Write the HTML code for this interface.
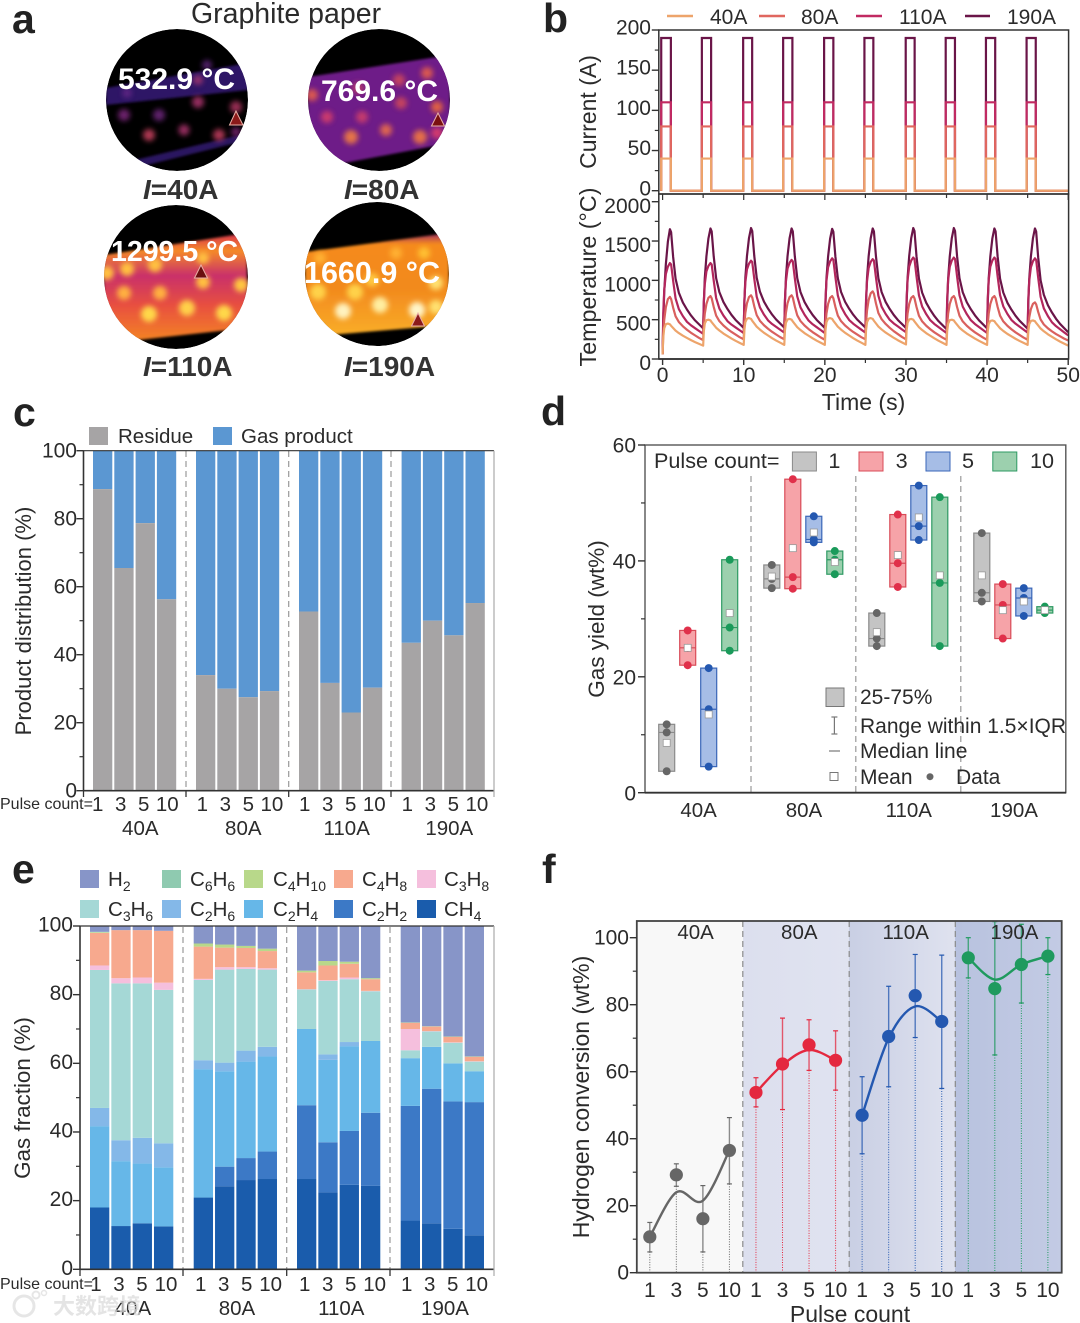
<!DOCTYPE html>
<html lang="en">
<head>
<meta charset="utf-8">
<title>Pulsed heating of graphite paper: multi-panel figure</title>
<style>
html,body{margin:0;padding:0;background:#fff;width:1080px;height:1323px;overflow:hidden}
svg{display:block}
text{font-family:"Liberation Sans","Noto Sans CJK SC",sans-serif;fill:#2b2b2b}
.panel{font-weight:700;font-size:41px;fill:#222}
.t20{font-size:20.5px}
.t21{font-size:21px}
.cur{font-weight:700;font-size:28px;fill:#333}
.temp{font-weight:700;font-size:30px;fill:#fff}
</style>
</head>
<body>
<svg id="figure" xmlns="http://www.w3.org/2000/svg" width="1080" height="1323" viewBox="0 0 1080 1323">
<defs>
<clipPath id="clipT1"><circle cx="177" cy="100" r="71"/></clipPath>
<clipPath id="clipT2"><circle cx="379" cy="100" r="71"/></clipPath>
<clipPath id="clipT3"><circle cx="176" cy="277" r="72"/></clipPath>
<clipPath id="clipT4"><circle cx="377" cy="274" r="72"/></clipPath>
<filter id="soft" x="-50%" y="-50%" width="200%" height="200%"><feGaussianBlur stdDeviation="2.6"/></filter>
<filter id="softer" x="-20%" y="-20%" width="140%" height="140%"><feGaussianBlur stdDeviation="1.2"/></filter>
<linearGradient id="gradT3" x1="0" y1="0" x2="0" y2="1">
<stop offset="0" stop-color="#d8304f"/><stop offset=".16" stop-color="#f58a28"/><stop offset=".38" stop-color="#c9306a"/><stop offset=".65" stop-color="#e8503f"/><stop offset="1" stop-color="#f58a20"/>
</linearGradient>
<linearGradient id="gradT4" x1="0" y1="0" x2="0" y2="1">
<stop offset="0" stop-color="#a02a6a"/><stop offset=".1" stop-color="#f58a1c"/><stop offset=".5" stop-color="#f28a1e"/><stop offset="1" stop-color="#fbb52a"/>
</linearGradient>
<linearGradient id="gradF2" x1="0" y1="0" x2="1" y2="0"><stop offset="0" stop-color="#dcdfee"/><stop offset="1" stop-color="#e0e3f0"/></linearGradient>
<linearGradient id="gradF3" x1="0" y1="0" x2="1" y2="0"><stop offset="0" stop-color="#c9cfe4"/><stop offset="1" stop-color="#dfe2ef"/></linearGradient>
<linearGradient id="gradF4" x1="0" y1="0" x2="1" y2="0"><stop offset="0" stop-color="#b8c2df"/><stop offset="1" stop-color="#c3cbe4"/></linearGradient>
<clipPath id="clipF"><rect x="637" y="921" width="425" height="352"/></clipPath>
</defs>

<g id="panel-a">
<text class="panel" x="12" y="33">a</text>
<text x="286" y="23" text-anchor="middle" font-size="28.5">Graphite paper</text>

<g clip-path="url(#clipT1)">
<circle cx="177" cy="100" r="71" fill="#000"/>
<polygon points="106,88 248,63 248,90 106,105" fill="#2f1566" filter="url(#softer)"/>
<polygon points="135,160 248,133 248,140 135,168" fill="#2c1560" filter="url(#softer)"/>
<g filter="url(#soft)" opacity=".78">
<circle cx="124" cy="115" r="6" fill="#8a2a8a"/><circle cx="159" cy="115" r="6" fill="#7a2a8a"/><circle cx="198" cy="102" r="6" fill="#c03a7a"/><circle cx="236" cy="107" r="6" fill="#c03a6a"/><circle cx="149" cy="135" r="6" fill="#e04a6a"/><circle cx="184" cy="130" r="5.5" fill="#c03a7a"/><circle cx="219" cy="135" r="6" fill="#d8456a"/><circle cx="198" cy="80" r="5" fill="#b03a70"/><circle cx="207" cy="65" r="5" fill="#6a2a8a"/><circle cx="236" cy="132" r="5" fill="#8a2a80"/><circle cx="127" cy="93" r="5" fill="#6a2a8a"/>
</g></g>

<g clip-path="url(#clipT2)">
<circle cx="379" cy="100" r="71" fill="#000"/>
<polygon points="308,77 450,55 450,143 308,170" fill="#6e1a88" filter="url(#softer)"/>
<g filter="url(#soft)" opacity=".88">
<circle cx="312" cy="95" r="6" fill="#e8604a"/><circle cx="351" cy="137" r="7" fill="#f58040"/><circle cx="386" cy="130" r="6" fill="#ee704a"/><circle cx="420" cy="137" r="7" fill="#f57a40"/><circle cx="327" cy="117" r="6" fill="#d8406a"/><circle cx="362" cy="117" r="6" fill="#d0406a"/><circle cx="399" cy="80" r="6" fill="#d04a5a"/><circle cx="427" cy="73" r="6" fill="#e8604a"/><circle cx="401" cy="103" r="6" fill="#d04a5a"/><circle cx="437" cy="107" r="6" fill="#f06a3a"/><circle cx="437" cy="133" r="6" fill="#e0406a"/><circle cx="358" cy="88" r="6" fill="#c0406a"/>
</g></g>

<g clip-path="url(#clipT3)">
<circle cx="176" cy="277" r="72" fill="#000"/>
<polygon points="104,255 247,233 247,328 138,340 104,345" fill="url(#gradT3)" filter="url(#softer)"/>
<g filter="url(#soft)">
<circle cx="107" cy="273" r="7" fill="#ffc040"/><circle cx="127" cy="269" r="7" fill="#ffc040"/><circle cx="155" cy="265" r="7" fill="#ffc040"/><circle cx="203" cy="282" r="7" fill="#ffc040"/><circle cx="241" cy="285" r="7" fill="#ffc840"/><circle cx="124" cy="293" r="7" fill="#ffb040"/><circle cx="160" cy="293" r="7" fill="#ffb040"/><circle cx="149" cy="314" r="8" fill="#ffd84a"/><circle cx="187" cy="308" r="8" fill="#ffd04a"/><circle cx="224" cy="313" r="8" fill="#ffd84a"/><circle cx="203" cy="258" r="6" fill="#ffc040"/>
</g></g>

<g clip-path="url(#clipT4)">
<circle cx="377" cy="274" r="72" fill="#000"/>
<polygon points="305,252 449,233 449,325 330,335 305,345" fill="url(#gradT4)" filter="url(#softer)"/>
<g filter="url(#soft)">
<circle cx="318" cy="292" r="8" fill="#ffd24a"/><circle cx="355" cy="292" r="8" fill="#ffd24a"/><circle cx="343" cy="311" r="8" fill="#fff3c0"/><circle cx="380" cy="305" r="8" fill="#ffeea0"/><circle cx="417" cy="310" r="8" fill="#fff5c8"/><circle cx="436" cy="307" r="7" fill="#ffe070"/><circle cx="436" cy="283" r="7" fill="#ffe070"/><circle cx="424" cy="253" r="6" fill="#ffc030"/><circle cx="396" cy="253" r="6" fill="#ffb030"/><circle cx="372" cy="280" r="7" fill="#ffc840"/><circle cx="320" cy="258" r="6" fill="#ffb030"/>
</g></g>

<polygon points="236,111 229.5,125 243,125" fill="#8b1a1a" stroke="#eab0a8" stroke-width="1"/>
<polygon points="438,113 431.5,126 444.5,126" fill="#7a1010" stroke="#eab0a8" stroke-width="1"/>
<polygon points="201,265 194.5,278 207.5,278" fill="#6a0f0f" stroke="#eab0a8" stroke-width="1"/>
<polygon points="418,313 411.5,326 424.5,326" fill="#8b1a1a" stroke="#eab0a8" stroke-width="1"/>

<text class="temp" x="118" y="89">532.9 °C</text>
<text class="temp" x="321" y="101">769.6 °C</text>
<text class="temp" x="111" y="261" font-size="28.5" style="font-size:28.5px">1299.5 °C</text>
<text class="temp" x="304" y="283" style="font-size:30.5px">1660.9 °C</text>

<text class="cur" x="143" y="199"><tspan font-style="italic">I</tspan>=40A</text>
<text class="cur" x="344" y="199"><tspan font-style="italic">I</tspan>=80A</text>
<text class="cur" x="143" y="376"><tspan font-style="italic">I</tspan>=110A</text>
<text class="cur" x="344" y="376"><tspan font-style="italic">I</tspan>=190A</text>
</g>

<g id="panel-b">
<text class="panel" x="543" y="32">b</text>
<line x1="667" y1="16" x2="693" y2="16" stroke="#eda46b" stroke-width="2.4"/>
<text font-size="21" x="710" y="24">40A</text>
<line x1="759" y1="16" x2="785" y2="16" stroke="#e0675f" stroke-width="2.4"/>
<text font-size="21" x="801" y="24">80A</text>
<line x1="856" y1="16" x2="882" y2="16" stroke="#c12a62" stroke-width="2.4"/>
<text font-size="21" x="899" y="24">110A</text>
<line x1="965" y1="16" x2="990" y2="16" stroke="#6a1548" stroke-width="2.4"/>
<text font-size="21" x="1007" y="24">190A</text>
<text font-size="23" text-anchor="middle" transform="translate(596,112) rotate(-90)">Current (A)</text>
<text font-size="23.3" text-anchor="middle" transform="translate(596,277) rotate(-90)">Temperature (°C)</text>
<text font-size="23" text-anchor="middle" x="863.5" y="410">Time (s)</text>
</g>

<g id="panel-c">
<text class="panel" x="13" y="426">c</text>
<rect x="89" y="427" width="19" height="18" fill="#a6a4a5"/>
<text class="t20" x="118" y="443">Residue</text>
<rect x="213" y="427" width="19" height="18" fill="#5b97d2"/>
<text class="t20" x="241" y="443">Gas product</text>
<text font-size="22" text-anchor="middle" transform="translate(31,621) rotate(-90)">Product distribution (%)</text>
</g>

<g id="panel-d">
<text class="panel" x="541" y="425">d</text>
<text font-size="22.5" text-anchor="middle" transform="translate(604,619) rotate(-90)">Gas yield (wt%)</text>
</g>

<g id="panel-e">
<text class="panel" x="12" y="883">e</text>
<text font-size="22.4" text-anchor="middle" transform="translate(30,1098) rotate(-90)">Gas fraction (%)</text>
<g font-size="20">
<rect x="80" y="870" width="19" height="18" fill="#8795c8"/>
<text x="108" y="886" font-size="20.5">H<tspan font-size="14" dy="5">2</tspan></text>
<rect x="162" y="870" width="19" height="18" fill="#8fcab0"/>
<text x="190" y="886" font-size="20.5">C<tspan font-size="14" dy="5">6</tspan><tspan dy="-5">H</tspan><tspan font-size="14" dy="5">6</tspan></text>
<rect x="244" y="870" width="19" height="18" fill="#b8d88a"/>
<text x="273" y="886" font-size="20.5">C<tspan font-size="14" dy="5">4</tspan><tspan dy="-5">H</tspan><tspan font-size="14" dy="5">10</tspan></text>
<rect x="334" y="870" width="19" height="18" fill="#f7a98e"/>
<text x="362" y="886" font-size="20.5">C<tspan font-size="14" dy="5">4</tspan><tspan dy="-5">H</tspan><tspan font-size="14" dy="5">8</tspan></text>
<rect x="417" y="870" width="19" height="18" fill="#f5bfdd"/>
<text x="444" y="886" font-size="20.5">C<tspan font-size="14" dy="5">3</tspan><tspan dy="-5">H</tspan><tspan font-size="14" dy="5">8</tspan></text>
<rect x="80" y="900" width="19" height="18" fill="#a5d8d6"/>
<text x="108" y="916" font-size="20.5">C<tspan font-size="14" dy="5">3</tspan><tspan dy="-5">H</tspan><tspan font-size="14" dy="5">6</tspan></text>
<rect x="162" y="900" width="19" height="18" fill="#84b8e8"/>
<text x="190" y="916" font-size="20.5">C<tspan font-size="14" dy="5">2</tspan><tspan dy="-5">H</tspan><tspan font-size="14" dy="5">6</tspan></text>
<rect x="244" y="900" width="19" height="18" fill="#66b7e8"/>
<text x="273" y="916" font-size="20.5">C<tspan font-size="14" dy="5">2</tspan><tspan dy="-5">H</tspan><tspan font-size="14" dy="5">4</tspan></text>
<rect x="334" y="900" width="19" height="18" fill="#3c79c6"/>
<text x="362" y="916" font-size="20.5">C<tspan font-size="14" dy="5">2</tspan><tspan dy="-5">H</tspan><tspan font-size="14" dy="5">2</tspan></text>
<rect x="417" y="900" width="19" height="18" fill="#1a5cac"/>
<text x="444" y="916" font-size="20.5">CH<tspan font-size="14" dy="5">4</tspan></text>
</g>
</g>

<g id="panel-f">
<text class="panel" x="542" y="883">f</text>
<rect x="637" y="921" width="106" height="352" fill="#f8f8f8"/>
<rect x="743" y="921" width="106" height="352" fill="url(#gradF2)"/>
<rect x="849" y="921" width="106" height="352" fill="url(#gradF3)"/>
<rect x="955" y="921" width="107" height="352" fill="url(#gradF4)"/>
<text font-size="23" text-anchor="middle" transform="translate(589,1097) rotate(-90)">Hydrogen conversion (wt%)</text>
<text font-size="23" text-anchor="middle" x="850" y="1322">Pulse count</text>
</g>

<g id="watermark" opacity=".75">
<circle cx="24" cy="1306" r="10" fill="none" stroke="#dedede" stroke-width="3"/>
<circle cx="36" cy="1295" r="3.5" fill="none" stroke="#dedede" stroke-width="2"/>
<circle cx="44" cy="1293" r="2.5" fill="none" stroke="#dedede" stroke-width="1.5"/>
<text x="53" y="1314" font-size="22" font-weight="700" style="fill:#dcdcdc;font-family:'Liberation Sans','Noto Sans CJK SC',sans-serif">大数跨境</text>
</g>
</svg>

<script>
/* Panel b data */
const pulseStart = [-0.17, 4.84, 9.93, 14.86, 19.91, 24.88, 29.97, 34.9, 39.86, 44.87];
const pulseEnd = [1.02, 5.98, 11.04, 16, 21.05, 25.98, 31.07, 36.04, 41, 46];
const currentLevels = [190, 110, 80, 40];
const currentTicks = [0, 50, 100, 150, 200];
const temperatureTicks = [0, 500, 1000, 1500, 2000];
const timeTicks = [0, 10, 20, 30, 40, 50];
const peak40 = [450, 500, 520, 510, 520, 520, 510, 500, 490, 490];
const peak80 = [790, 800, 810, 810, 800, 860, 800, 800, 800, 720];
const peak110 = [1220, 1220, 1250, 1260, 1280, 1270, 1290, 1290, 1290, 1280];
const peak190 = [1650, 1660, 1665, 1660, 1655, 1660, 1665, 1665, 1660, 1660];
const trough40 = [60, 170, 180, 180, 180, 180, 185, 180, 180, 180, 170];
const trough80 = [60, 240, 250, 250, 245, 250, 250, 245, 245, 245, 235];
const trough110 = [60, 320, 330, 335, 330, 335, 340, 330, 330, 335, 300];
const trough190 = [60, 390, 395, 400, 395, 400, 395, 380, 390, 385, 340];
const cycleTimes = [0, 0.08, 0.2, 0.4, 0.65, 0.9, 1.05, 1.3, 1.6, 2, 2.5, 3, 3.5, 4, 4.5, 5];
const profile40 = [0, 0.55, 0.85, 0.98, 1, 0.97, 0.9, 0.8, 0.68, 0.57, 0.45, 0.35, 0.25, 0.16, 0.08, 0];
const profile80 = [0, 0.35, 0.6, 0.82, 0.96, 1, 0.95, 0.75, 0.55, 0.42, 0.32, 0.24, 0.17, 0.11, 0.05, 0];
const profile110 = [0, 0.45, 0.7, 0.88, 0.96, 1, 0.98, 0.75, 0.5, 0.35, 0.25, 0.17, 0.12, 0.08, 0.04, 0];
const profile190 = [0, 0.25, 0.5, 0.72, 0.9, 1, 0.97, 0.72, 0.5, 0.36, 0.26, 0.19, 0.13, 0.08, 0.04, 0];

/* Panel c data */
const pulseLabels = ['1', '3', '5', '10'];
const currentLabels = ['40A', '80A', '110A', '190A'];
const percentTicks = [0, 20, 40, 60, 80, 100];
const residue = [88.7, 65.5, 78.7, 56.3, 34, 30, 27.5, 29.3, 52.7, 31.7, 23, 30.3, 43.5, 50, 45.7, 55.2];

/* Panel d data */
const yieldTicks = [0, 20, 40, 60];
const yieldLow = [3.7, 22, 4.5, 24.5, 35.3, 35.2, 43.2, 37.7, 25.3, 35.5, 43.6, 25.3, 33, 26.6, 30.5, 31];
const yieldHigh = [11.8, 28, 21.5, 40.2, 39.3, 54.1, 47.7, 41.7, 31, 48, 53, 51, 44.8, 36, 35.3, 32.1];
const yieldMedian = [10.4, 25, 14.4, 28.5, 36.9, 37.2, 43.7, 40.2, 26.6, 39.6, 46, 36.2, 34.5, 32.4, 33.6, 31.5];
const yieldMean = [8.6, 25, 13.5, 31, 37.3, 42.2, 44.9, 39.8, 27.7, 41, 47.5, 37.5, 37.5, 31.5, 33, 31.5];

/* Panel e data: per gas share of each of the 16 bars */
const ch4 = [18, 12.6, 13.4, 12.5, 20.9, 24.2, 26, 26.3, 26.3, 22.4, 24.6, 24.3, 14.2, 13.4, 11.8, 9.9];
const c2h2 = [0, 0, 0, 0, 0, 5.7, 6.4, 8, 21.5, 14.6, 15.7, 21.3, 33.4, 39.2, 37.1, 38.8];
const c2h4 = [23.7, 18.9, 17.4, 17.2, 37.4, 27.8, 28.1, 27.7, 22.2, 24, 24.7, 20.9, 13.9, 12.2, 11.1, 9];
const c2h6 = [5.3, 6.1, 7.5, 7, 2.6, 2.5, 3.2, 2.8, 0, 1.6, 1.2, 0, 0, 0, 0, 0];
const c3h6 = [40.2, 45.7, 45, 44.7, 23.4, 27.1, 23.8, 22.5, 11.5, 21.4, 18.3, 14.5, 2.3, 4.5, 6, 2.8];
const c3h8 = [1.3, 1.5, 1.7, 2.1, 0.3, 0.7, 0.5, 0.4, 0.1, 0.2, 0.5, 0.1, 6.2, 0.1, 0.1, 0.1];
const c4h8 = [9.5, 14, 13.8, 15.1, 9.4, 5.7, 5.6, 5, 4.9, 4.3, 4, 3.4, 1.8, 1.3, 1.6, 1.3];
const c4h10 = [0.2, 0, 0, 0, 0.9, 0.9, 0.6, 0.7, 0.5, 1.3, 0.6, 0.3, 0.1, 0.1, 0.1, 0.1];
const c6h6 = [0.1, 0, 0, 0, 0, 0, 0, 0, 0, 0, 0, 0, 0, 0, 0, 0];
const h2 = [1.7, 1.2, 1.2, 1.4, 5.1, 5.4, 5.8, 6.6, 13, 10.2, 10.4, 15.2, 28.1, 29.2, 32.2, 38];

/* Panel f data */
const conversionTicks = [0, 20, 40, 60, 80, 100];
const conversion = [10.7, 29.2, 16.1, 36.5, 53.8, 62.3, 68, 63.4, 47, 70.5, 82.7, 75, 94, 84.8, 92, 94.5];
const conversionLow = [6.2, 25.8, 6.2, 26.5, 49.5, 48.7, 60.4, 54.5, 35.5, 55.5, 70.2, 55, 88, 65, 80.5, 89];
const conversionHigh = [15, 32.5, 26, 46.3, 58.2, 76, 75.5, 72.2, 58.5, 85.5, 95, 94.8, 100, 104.8, 104, 100];
const conversionFit = [10.7, 24, 21.5, 36.5, 53.8, 62, 66.5, 63.4, 47, 70, 79.5, 75, 94, 87.5, 92, 94.5];

const NS = 'http://www.w3.org/2000/svg';
function scale(d0, d1, r0, r1) {
  return function (v) { return r0 + (v - d0) * (r1 - r0) / (d1 - d0); };
}
function mk(tag, name, parent, props) {
  const el = document.createElementNS(NS, tag);
  
  
  for (const k in props) el.setAttribute(k, props[k]);
  parent.appendChild(el);
  return el;
}
function line(name, parent, x1, y1, x2, y2, stroke, w, dash) {
  const p = { x1: x1, y1: y1, x2: x2, y2: y2, stroke: stroke, 'stroke-width': w };
  if (dash) p['stroke-dasharray'] = dash;
  return mk('line', name, parent, p);
}
function label(name, parent, x, y, str, size, anchor) {
  const t = mk('text', name, parent, { x: x, y: y, 'font-size': size, 'text-anchor': anchor || 'middle' });
  t.textContent = str;
  return t;
}
function yAxis(parent, prefix, ticks, minorTicks, ys, axisX, labelX, size, color, labelShift) {
  const shift = labelShift || 0;
  ticks.forEach(function (v) {
    line(prefix + '-tick', parent, axisX - 7, ys(v), axisX, ys(v), color, 1.4);
    label(prefix + '-tick-label', parent, labelX, ys(v) + size * 0.36 + shift, String(v), size, 'end');
  });
  minorTicks.forEach(function (v) {
    line(prefix + '-minor-tick', parent, axisX - 4, ys(v), axisX, ys(v), color, 1.2);
  });
}

/* ---------- Panel b ---------- */
(function () {
  const g = document.getElementById('panel-b');
  const xs = scale(0, 50, 662.6, 1068.2);
  const yc = scale(0, 200, 190.7, 30);
  const yt = scale(0, 2000, 359, 201.7);
  const colors = { 190: '#6a1548', 110: '#c12a62', 80: '#e0675f', 40: '#eda46b' };
  currentLevels.forEach(function (level) {
    let d = 'M' + xs(pulseStart[0]) + ' ' + yc(0);
    pulseStart.forEach(function (s, i) {
      d += 'L' + xs(s) + ' ' + yc(0) + 'L' + xs(s) + ' ' + yc(level) + 'L' + xs(pulseEnd[i]) + ' ' + yc(level) + 'L' + xs(pulseEnd[i]) + ' ' + yc(0);
    });
    d += 'L' + xs(50) + ' ' + yc(0);
    mk('path', 'current-trace-' + level + 'a', g, { d: d, fill: 'none', stroke: colors[level], 'stroke-width': 2.2 });
  });
  const series = [
    ['190a', peak190, trough190, profile190, '#6a1548'],
    ['110a', peak110, trough110, profile110, '#b3265c'],
    ['80a', peak80, trough80, profile80, '#d9605e'],
    ['40a', peak40, trough40, profile40, '#eda46b']
  ];
  series.forEach(function (s) {
    const peaks = s[1], troughs = s[2], prof = s[3];
    let d = '';
    peaks.forEach(function (pk, k) {
      const apex = prof.indexOf(1);
      cycleTimes.forEach(function (t, j) {
        const base = j <= apex ? troughs[k] : troughs[k + 1];
        const v = base + prof[j] * (pk - base);
        d += (d ? 'L' : 'M') + xs(5 * k + t) + ' ' + yt(v);
      });
    });
    mk('path', 'temperature-trace-' + s[0], g, { d: d, fill: 'none', stroke: s[4], 'stroke-width': 2.2, 'stroke-linejoin': 'round' });
  });
  mk('rect', 'current-plot-frame', g, { x: 658.8, y: 30, width: 409.8, height: 164, fill: 'none', stroke: '#333', 'stroke-width': 1.5 });
  mk('rect', 'temperature-plot-frame', g, { x: 658.8, y: 194, width: 409.8, height: 165, fill: 'none', stroke: '#333', 'stroke-width': 1.5 });
  line('time-axis-line', g, 658.8, 359, 1068.6, 359, '#333', 1.8);
  yAxis(g, 'current', currentTicks, [25, 75, 125, 175], yc, 658.8, 651, 21, '#333', -3);
  yAxis(g, 'temperature', temperatureTicks, [250, 750, 1250, 1750], yt, 658.8, 651, 21, '#333', 3.5);
  timeTicks.forEach(function (v) {
    line('time-tick', g, xs(v), 359, xs(v), 365, '#333', 1.4);
    line('time-tick-upper', g, xs(v), 194, xs(v), 200, '#333', 1.2);
    label('time-tick-label', g, xs(v), 382, String(v), 21);
  });
  timeTicks.slice(0, -1).forEach(function (v) {
    line('time-minor-tick', g, xs(v + 5), 359, xs(v + 5), 363, '#333', 1.2);
    line('time-minor-tick-upper', g, xs(v + 5), 194, xs(v + 5), 198, '#333', 1.2);
  });
})();

/* ---------- Panel c ---------- */
(function () {
  const g = document.getElementById('panel-c');
  const ys = scale(0, 100, 790.7, 450.7);
  const groupX = [93, 196, 299, 401.6];
  const barX = function (i) { return groupX[Math.floor(i / 4)] + (i % 4) * 21.3; };
  residue.forEach(function (v, i) {
    mk('rect', 'gas-product-bar-' + i, g, { x: barX(i), y: ys(100), width: 19.3, height: ys(v) - ys(100), fill: '#5b97d2' });
    mk('rect', 'residue-bar-' + i, g, { x: barX(i), y: ys(v), width: 19.3, height: ys(0) - ys(v), fill: '#a6a4a5' });
  });
  [186, 288.7, 391].forEach(function (x) {
    line('group-divider', g, x, 451, x, 790, '#999', 1.2, '6 4');
    line('group-tick', g, x, 790.7, x, 797, '#333', 1.3);
  });
  line('y-axis-line', g, 83.5, 450.7, 83.5, 791, '#333', 1.6);
  line('x-axis-line', g, 83, 790.7, 494, 790.7, '#333', 1.6);
  line('top-frame-line', g, 83, 450.7, 494, 450.7, '#333', 1.2);
  line('right-frame-line', g, 494, 450.7, 494, 797, '#aaa', 1.2);
  line('x-axis-start-tick', g, 83.5, 790.7, 83.5, 797, '#333', 1.3);
  yAxis(g, 'percent', percentTicks, [10, 30, 50, 70, 90], ys, 83.5, 77, 21, '#333', -1);
  label('pulse-count-prefix', g, 0, 809, 'Pulse count=', 16, 'start');
  const labelX = [97.7, 202.3, 304.7, 407.3];
  const groupLabelX = [140.3, 243.3, 346.7, 449.3];
  currentLabels.forEach(function (c, gi) {
    pulseLabels.forEach(function (p, j) {
      label('pulse-label', g, labelX[gi] + j * 23 + (j === 3 ? 0.6 : 0), 811, p, 20.5);
    });
    label('current-group-label', g, groupLabelX[gi], 835, c, 20.5);
  });
})();

/* ---------- Panel d ---------- */
(function () {
  const g = document.getElementById('panel-d');
  const ys = scale(0, 60, 792.7, 445);
  const groupX = [666.7, 771.8, 876.8, 981.8];
  const fills = ['#c4c4c4', '#f6a3a8', '#a6bde6', '#9cd0ae'];
  const strokes = ['#8a8a8a', '#d94b57', '#3a66b8', '#2e9a63'];
  const dots = ['#666666', '#e0304a', '#2458b0', '#1a9a5a'];
  [751, 855.8, 960.8].forEach(function (x) {
    line('group-divider', g, x, 476, x, 792, '#999', 1.2, '6 4');
  });
  yieldLow.forEach(function (lo, i) {
    const k = i % 4;
    const x = groupX[Math.floor(i / 4)] + k * 21;
    const hi = yieldHigh[i], med = yieldMedian[i], mean = yieldMean[i];
    mk('rect', 'box-' + i, g, { x: x - 8, y: ys(hi), width: 16, height: ys(lo) - ys(hi), fill: fills[k], stroke: strokes[k], 'stroke-width': 1.2 });
    line('median-line-' + i, g, x - 8, ys(med), x + 8, ys(med), strokes[k], 1.2);
    [lo, med, hi].forEach(function (v) {
      mk('circle', 'data-point-' + i, g, { cx: x, cy: ys(v), r: 4, fill: dots[k] });
    });
    mk('rect', 'mean-marker-' + i, g, { x: x - 3.5, y: ys(mean) - 3.5, width: 7, height: 7, fill: '#fff', stroke: '#999', 'stroke-width': 0.8 });
  });
  mk('rect', 'plot-frame', g, { x: 645, y: 445, width: 420.8, height: 347.7, fill: 'none', stroke: '#555', 'stroke-width': 1.4 });
  line('x-axis-line', g, 645, 792.7, 1066, 792.7, '#333', 1.8);
  yAxis(g, 'yield', yieldTicks, [10, 30, 50], ys, 645, 636, 21, '#333', 0);
  const labelCx = [698.6, 804, 908.8, 1014];
  currentLabels.forEach(function (c, i) {
    label('current-group-label', g, labelCx[i], 817, c, 20.5);
  });

  /* legends */
  label('pulse-count-legend-title', g, 654, 468, 'Pulse count=', 21.6, 'start');
  const swX = [792.4, 859, 926, 992.8];
  const swLabelX = [834.4, 901.6, 968, 1042];
  pulseLabels.forEach(function (p, i) {
    mk('rect', 'legend-swatch-pulse-' + p, g, { x: swX[i], y: 452, width: 24, height: 19, fill: fills[i], stroke: strokes[i], 'stroke-width': 1 });
    label('legend-label-pulse-' + p, g, swLabelX[i], 468, p, 21.6);
  });
  mk('rect', 'legend-swatch-iqr', g, { x: 826, y: 688, width: 18, height: 18.5, fill: '#c4c4c4', stroke: '#777', 'stroke-width': 1 });
  label('legend-label-iqr', g, 860, 704, '25-75%', 21, 'start');
  line('legend-range-stem', g, 834.4, 717, 834.4, 734, '#777', 1.2);
  line('legend-range-cap-top', g, 831.4, 717, 837.4, 717, '#777', 1.2);
  line('legend-range-cap-bottom', g, 831.4, 734, 837.4, 734, '#777', 1.2);
  label('legend-label-range', g, 860, 733, 'Range within 1.5×IQR', 21, 'start');
  line('legend-median-line', g, 829, 751, 840, 751, '#777', 1.2);
  label('legend-label-median', g, 860, 758, 'Median line', 21, 'start');
  mk('rect', 'legend-mean-marker', g, { x: 830, y: 772.5, width: 8, height: 8, fill: '#fff', stroke: '#777', 'stroke-width': 1 });
  label('legend-label-mean', g, 860, 784, 'Mean', 21, 'start');
  mk('circle', 'legend-data-dot', g, { cx: 930, cy: 776.7, r: 3.5, fill: '#666' });
  label('legend-label-data', g, 956, 784, 'Data', 21, 'start');
})();

/* ---------- Panel e ---------- */
(function () {
  const g = document.getElementById('panel-e');
  const ys = scale(0, 100, 1269.3, 926);
  const groupX = [90, 193.7, 297, 400.7];
  const stack = [
    ['ch4', ch4, '#1a5cac'], ['c2h2', c2h2, '#3c79c6'], ['c2h4', c2h4, '#66b7e8'], ['c2h6', c2h6, '#84b8e8'],
    ['c3h6', c3h6, '#a5d8d6'], ['c3h8', c3h8, '#f5bfdd'], ['c4h8', c4h8, '#f7a98e'], ['c4h10', c4h10, '#b8d88a'],
    ['c6h6', c6h6, '#8fcab0'], ['h2', h2, '#8795c8']
  ];
  ch4.forEach(function (_, i) {
    const x = groupX[Math.floor(i / 4)] + (i % 4) * 21.33;
    let sum = 0;
    stack.forEach(function (s) {
      const v = s[1][i];
      if (v > 0) {
        mk('rect', s[0] + '-segment-' + i, g, { x: x, y: ys(sum + v), width: 19.3, height: ys(sum) - ys(sum + v), fill: s[2] });
      }
      sum += v;
    });
  });
  [183, 286.7, 390].forEach(function (x) {
    line('group-divider', g, x, 927, x, 1269, '#999', 1.2, '6 4');
    line('group-tick', g, x, 1269.3, x, 1276, '#333', 1.3);
  });
  line('y-axis-line', g, 80, 926, 80, 1270, '#333', 1.6);
  line('x-axis-line', g, 80, 1269.3, 494, 1269.3, '#333', 1.6);
  line('top-frame-line', g, 80, 926, 494, 926, '#333', 1.2);
  line('right-frame-line', g, 494, 926, 494, 1276, '#aaa', 1.2);
  line('x-axis-start-tick', g, 80, 1269.3, 80, 1276, '#333', 1.3);
  yAxis(g, 'fraction', percentTicks, [10, 30, 50, 70, 90], ys, 80, 73, 21, '#333', -2);
  label('pulse-count-prefix', g, 0, 1289, 'Pulse count=', 16, 'start');
  const labelX = [96, 200.7, 304.7, 406.7];
  const groupLabelX = [133, 237, 341.3, 445];
  currentLabels.forEach(function (c, gi) {
    pulseLabels.forEach(function (p, j) {
      label('pulse-label', g, labelX[gi] + j * 23 + (j === 3 ? 1 : 0), 1291, p, 20.5);
    });
    label('current-group-label', g, groupLabelX[gi], 1315, c, 20.5);
  });
})();

/* ---------- Panel f ---------- */
(function () {
  const g = document.getElementById('panel-f');
  const ys = scale(0, 100, 1272.7, 937.7);
  const xs = scale(0, 15, 649.8, 1047.9);
  const groupColors = ['#666666', '#e4283f', '#2458b0', '#1f9a5e'];
  const clipped = mk('g', 'series-group', g, { 'clip-path': 'url(#clipF)' });
  [742.8, 849.2, 955.3].forEach(function (x) {
    line('group-divider', g, x, 921, x, 1272, '#8a8a8a', 1.2, '6 4');
  });
  for (let gi = 0; gi < 4; gi++) {
    const col = groupColors[gi];
    const pts = [];
    for (let j = 0; j < 4; j++) {
      const i = gi * 4 + j;
      const x = xs(i);
      line('drop-line-' + i, clipped, x, ys(conversionLow[i]), x, ys(0), col, 1, '1 1.5');
      const eb = line('error-bar-' + i, clipped, x, ys(conversionHigh[i]), x, ys(conversionLow[i]), col, 1.4);
      eb.setAttribute('opacity', '0.75');
      line('error-cap-high-' + i, clipped, x - 2.5, ys(conversionHigh[i]), x + 2.5, ys(conversionHigh[i]), col, 1.2);
      line('error-cap-low-' + i, clipped, x - 2.5, ys(conversionLow[i]), x + 2.5, ys(conversionLow[i]), col, 1.2);
      pts.push([x, ys(conversionFit[i])]);
    }
    let d = 'M' + pts[0][0] + ' ' + pts[0][1];
    for (let k = 0; k < 3; k++) {
      const p0 = pts[Math.max(k - 1, 0)], p1 = pts[k], p2 = pts[k + 1], p3 = pts[Math.min(k + 2, 3)];
      d += 'C' + (p1[0] + (p2[0] - p0[0]) / 6) + ' ' + (p1[1] + (p2[1] - p0[1]) / 6) + ' ' +
        (p2[0] - (p3[0] - p1[0]) / 6) + ' ' + (p2[1] - (p3[1] - p1[1]) / 6) + ' ' + p2[0] + ' ' + p2[1];
    }
    mk('path', 'fit-curve-' + currentLabels[gi].toLowerCase(), clipped, { d: d, fill: 'none', stroke: col, 'stroke-width': 2.4 });
    for (let j = 0; j < 4; j++) {
      const i = gi * 4 + j;
      mk('circle', 'conversion-point-' + i, clipped, { cx: xs(i), cy: ys(conversion[i]), r: 6.6, fill: col });
    }
  }
  mk('rect', 'plot-frame', g, { x: 636.8, y: 921, width: 424.9, height: 351.7, fill: 'none', stroke: '#444', 'stroke-width': 1.8 });
  yAxis(g, 'conversion', conversionTicks, [10, 30, 50, 70, 90], ys, 636.8, 629, 21, '#333', -1);
  conversion.forEach(function (_, i) {
    label('pulse-label', g, xs(i), 1297, pulseLabels[i % 4], 21);
  });
  const groupLabelX = [695.6, 799.3, 905.7, 1014.5];
  currentLabels.forEach(function (c, i) {
    label('current-group-label', g, groupLabelX[i], 939, c, 20.5);
  });
})();

/* keep the watermark above the plotted text */
document.getElementById('figure').appendChild(document.getElementById('watermark'));
</script>
</body>
</html>
